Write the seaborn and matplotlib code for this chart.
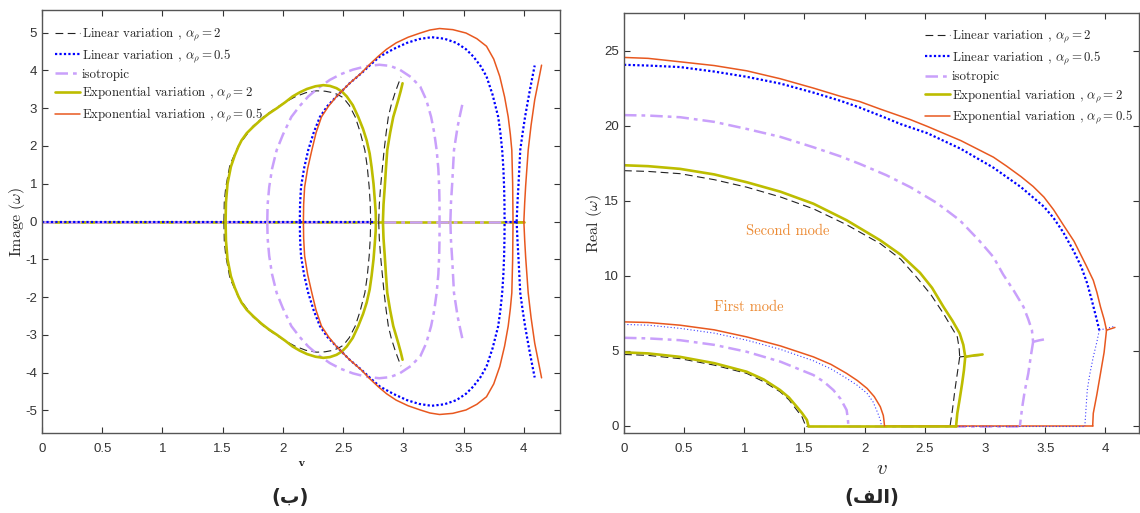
import matplotlib
matplotlib.use("Agg")
import matplotlib.pyplot as plt
import seaborn as sns
import numpy as np
from matplotlib.lines import Line2D

# ---------------- data ----------------
# left panel: Image(w) vs v  (upper halves; lower halves are the conjugates)
lin2_im_ell_v = [1.51, 1.513, 1.525, 1.56, 1.63, 1.75, 1.85, 1.95, 2.03, 2.10, 2.19, 2.28, 2.35, 2.40,
                 2.45, 2.50, 2.55, 2.60, 2.64, 2.68, 2.70, 2.716, 2.725, 2.728]
lin2_im_ell_y = [0, 0.50, 0.90, 1.50, 2.00, 2.52, 2.80, 3.02, 3.18, 3.30, 3.41, 3.46, 3.45, 3.42,
                 3.37, 3.28, 3.08, 2.77, 2.38, 1.89, 1.45, 0.91, 0.45, 0]
lin2_im_br_v = [2.795, 2.80, 2.81, 2.825, 2.84, 2.857, 2.875, 2.90, 2.93, 2.955, 2.98]
lin2_im_br_y = [0, 0.45, 0.90, 1.40, 1.89, 2.35, 2.77, 3.10, 3.40, 3.62, 3.83]
lin2_im_zero = [(0, 2.80)]

lin05_im_ell_v = [2.14, 2.142, 2.15, 2.175, 2.21, 2.255, 2.307, 2.37, 2.445, 2.55, 2.653, 2.73, 2.805,
                  2.92, 3.03, 3.13, 3.234, 3.34, 3.44, 3.52, 3.58, 3.64, 3.69, 3.74, 3.787, 3.805,
                  3.82, 3.83, 3.836, 3.839, 3.84]
lin05_im_ell_y = [0, 0.45, 0.91, 1.40, 1.89, 2.35, 2.77, 3.06, 3.31, 3.65, 3.93, 4.16, 4.37,
                  4.57, 4.73, 4.83, 4.88, 4.84, 4.73, 4.56, 4.37, 4.12, 3.84, 3.36, 2.77, 2.35,
                  1.89, 1.40, 0.91, 0.45, 0]
lin05_im_br_v = [3.94, 3.947, 3.955, 3.97, 3.99, 4.01, 4.03, 4.05, 4.07, 4.09]
lin05_im_br_y = [0, 0.50, 0.95, 1.89, 2.35, 2.77, 3.13, 3.48, 3.81, 4.13]
lin05_im_zero = [(0, 2.78), (3.84, 3.94)]

iso_im_ell_v = [1.87, 1.873, 1.886, 1.91, 1.948, 2.00, 2.07, 2.14, 2.21, 2.30, 2.39, 2.48, 2.58, 2.69,
                2.80, 2.89, 2.97, 3.06, 3.14, 3.19, 3.23, 3.256, 3.276, 3.29, 3.297, 3.30, 3.30]
iso_im_ell_y = [0, 0.45, 0.91, 1.40, 1.89, 2.30, 2.77, 3.06, 3.31, 3.55, 3.75, 3.90, 4.02, 4.11,
                4.15, 4.12, 4.02, 3.83, 3.57, 3.22, 2.77, 2.35, 1.89, 1.40, 0.91, 0.45, 0]
iso_im_br_v = [3.39, 3.395, 3.405, 3.42, 3.45, 3.47, 3.49]
iso_im_br_y = [0, 0.50, 1.00, 1.89, 2.51, 2.82, 3.11]
iso_im_zero = [(0, 3.93)]

exp2_im_ell_v = [1.524, 1.527, 1.54, 1.568, 1.60, 1.63, 1.657, 1.70, 1.754, 1.82, 1.88, 1.95, 2.02,
                 2.08, 2.14, 2.20, 2.27, 2.335, 2.39, 2.445, 2.49, 2.53, 2.58, 2.625, 2.665, 2.695,
                 2.72, 2.736, 2.752, 2.763, 2.770, 2.772]
exp2_im_ell_y = [0, 0.50, 1.00, 1.45, 1.75, 1.98, 2.15, 2.34, 2.51, 2.70, 2.85, 3.00, 3.16,
                 3.31, 3.42, 3.51, 3.58, 3.61, 3.59, 3.53, 3.44, 3.31, 3.08, 2.77, 2.45, 2.15,
                 1.80, 1.44, 1.00, 0.56, 0.25, 0]
exp2_im_br_v = [2.83, 2.835, 2.845, 2.855, 2.866, 2.89, 2.916, 2.94, 2.96, 2.978, 2.993]
exp2_im_br_y = [0, 0.45, 0.90, 1.40, 1.89, 2.35, 2.77, 3.03, 3.25, 3.46, 3.66]
exp2_im_zero = [(0, 4.0)]

exp05_im_ell_v = [2.17, 2.172, 2.18, 2.205, 2.24, 2.275, 2.32, 2.38, 2.445, 2.55, 2.65, 2.72, 2.79,
                  2.86, 2.94, 3.04, 3.14, 3.22, 3.30, 3.41, 3.52, 3.61, 3.69, 3.75, 3.80, 3.84,
                  3.87, 3.888, 3.90, 3.907, 3.91]
exp05_im_ell_y = [0, 0.45, 0.91, 1.40, 1.89, 2.35, 2.77, 3.06, 3.31, 3.65, 3.93, 4.16, 4.37,
                  4.56, 4.73, 4.88, 4.99, 5.07, 5.11, 5.08, 4.99, 4.84, 4.64, 4.30, 3.84, 3.30,
                  2.77, 2.30, 1.89, 1.00, 0]
exp05_im_br_v = [4.00, 4.007, 4.015, 4.036, 4.06, 4.09, 4.12, 4.147]
exp05_im_br_y = [0, 0.50, 0.95, 1.89, 2.55, 3.22, 3.70, 4.14]
exp05_im_zero = [(0, 2.17), (3.91, 4.0)]

# right panel: Real(w) vs v
lin2_re_m1_v = [0, 0.2, 0.466, 0.75, 1.02, 1.16, 1.297, 1.37, 1.436, 1.48, 1.51]
lin2_re_m1_y = [4.76, 4.70, 4.48, 4.05, 3.50, 2.95, 2.28, 1.75, 1.06, 0.60, 0]
lin2_re_m2_v = [0, 0.2, 0.466, 0.75, 1.02, 1.30, 1.574, 1.85, 2.13, 2.30, 2.43, 2.55, 2.655, 2.72,
                2.77, 2.785, 2.79]
lin2_re_m2_y = [17.0, 16.95, 16.8, 16.4, 15.9, 15.25, 14.46, 13.4, 12.14, 11.1, 9.92, 8.75, 7.48, 6.6,
                5.93, 5.2, 4.6]
lin2_re_dn_v = [2.79, 2.77, 2.75, 2.73, 2.71]
lin2_re_dn_y = [4.6, 3.5, 2.39, 1.1, 0]
lin2_re_br_v = [2.79, 2.88, 2.98]
lin2_re_br_y = [4.6, 4.66, 4.7]
lin2_re_zero = [(1.51, 2.71)]

lin05_re_m1_v = [0, 0.2, 0.466, 0.75, 1.02, 1.30, 1.574, 1.72, 1.85, 1.94, 2.02, 2.07, 2.11, 2.13, 2.14]
lin05_re_m1_y = [6.76, 6.71, 6.50, 6.18, 5.71, 5.10, 4.34, 3.80, 3.17, 2.70, 2.17, 1.60, 0.84, 0.40, 0]
lin05_re_m2_v = [0, 0.2, 0.466, 0.75, 1.02, 1.30, 1.574, 1.80, 1.96, 2.13, 2.30, 2.52, 2.80, 3.07,
                 3.30, 3.49, 3.57, 3.65, 3.74, 3.80, 3.85, 3.89, 3.93, 3.95]
lin05_re_m2_y = [24.05, 24.0, 23.9, 23.6, 23.25, 22.8, 22.2, 21.65, 21.2, 20.66, 20.1, 19.5, 18.45, 17.2,
                 15.9, 14.6, 13.85, 12.9, 11.6, 10.6, 9.48, 8.3, 7.04, 6.38]
lin05_re_dn_v = [3.95, 3.93, 3.90, 3.87, 3.85, 3.83]
lin05_re_dn_y = [6.38, 5.6, 4.6, 3.4, 2.39, 0]
lin05_re_br_v = [3.95, 4.02, 4.08]
lin05_re_br_y = [6.38, 6.52, 6.64]
lin05_re_zero = [(2.14, 3.83)]

iso_re_m1_v = [0, 0.2, 0.466, 0.75, 1.02, 1.30, 1.574, 1.66, 1.74, 1.80, 1.85, 1.86, 1.865]
iso_re_m1_y = [5.87, 5.83, 5.71, 5.40, 4.94, 4.28, 3.39, 2.95, 2.39, 1.80, 1.06, 0.50, 0]
iso_re_m2_v = [0, 0.2, 0.466, 0.75, 1.02, 1.30, 1.574, 1.80, 1.96, 2.18, 2.38, 2.60, 2.79, 2.95,
               3.07, 3.15, 3.24, 3.32, 3.36, 3.39, 3.40]
iso_re_m2_y = [20.7, 20.67, 20.56, 20.25, 19.78, 19.25, 18.56, 17.95, 17.45, 16.7, 15.9, 14.85, 13.7, 12.36,
               11.25, 10.1, 9.0, 7.93, 7.1, 6.38, 5.6]
iso_re_dn_v = [3.40, 3.38, 3.36, 3.33, 3.31, 3.29]
iso_re_dn_y = [5.6, 4.6, 3.5, 2.3, 1.28, 0]
iso_re_br_v = [3.40, 3.45, 3.49]
iso_re_br_y = [5.6, 5.7, 5.76]
iso_re_zero = [(1.865, 3.29)]

exp2_re_m1_v = [0, 0.2, 0.466, 0.75, 1.02, 1.16, 1.297, 1.37, 1.436, 1.48, 1.52, 1.533]
exp2_re_m1_y = [4.90, 4.83, 4.60, 4.18, 3.61, 3.10, 2.39, 1.90, 1.28, 0.85, 0.40, 0]
exp2_re_m2_v = [0, 0.2, 0.466, 0.75, 1.02, 1.30, 1.574, 1.85, 2.13, 2.30, 2.46, 2.56, 2.655, 2.73,
                2.79, 2.82, 2.836]
exp2_re_m2_y = [17.36, 17.3, 17.12, 16.75, 16.23, 15.6, 14.8, 13.7, 12.36, 11.4, 10.2, 9.2, 7.93, 7.0,
                6.16, 5.4, 4.6]
exp2_re_dn_v = [2.836, 2.825, 2.81, 2.79, 2.77, 2.76]
exp2_re_dn_y = [4.6, 3.7, 2.83, 1.8, 0.84, 0]
exp2_re_br_v = [2.836, 2.91, 2.98]
exp2_re_br_y = [4.6, 4.7, 4.76]
exp2_re_zero = [(1.533, 2.76)]

exp05_re_m1_v = [0, 0.2, 0.466, 0.75, 1.02, 1.30, 1.574, 1.72, 1.85, 1.94, 2.02, 2.08, 2.13, 2.155,
                 2.16, 2.165]
exp05_re_m1_y = [6.93, 6.89, 6.71, 6.40, 5.93, 5.33, 4.60, 4.10, 3.50, 3.02, 2.50, 1.95, 1.28, 0.70,
                 0.40, 0]
exp05_re_m2_v = [0, 0.2, 0.466, 0.75, 1.02, 1.30, 1.574, 1.80, 1.96, 2.13, 2.38, 2.52, 2.80, 3.07,
                 3.18, 3.30, 3.40, 3.49, 3.57, 3.65, 3.74, 3.84, 3.90, 3.93, 3.96, 3.99, 4.01]
exp05_re_m2_y = [24.54, 24.48, 24.25, 24.0, 23.65, 23.12, 22.5, 21.95, 21.6, 21.1, 20.4, 19.95, 19.0, 17.9,
                 17.3, 16.6, 15.95, 15.24, 14.4, 13.4, 12.3, 10.7, 9.7, 8.9, 7.93, 7.1, 6.38]
exp05_re_dn_v = [4.01, 3.99, 3.96, 3.93, 3.90, 3.895]
exp05_re_dn_y = [6.38, 4.9, 3.5, 2.1, 0.84, 0]
exp05_re_br_v = [4.01, 4.05, 4.08]
exp05_re_br_y = [6.38, 6.48, 6.56]
exp05_re_zero = [(2.165, 3.895)]

labels = [
    r"Linear variation , $\alpha_\rho = 2$",
    r"Linear variation , $\alpha_\rho = 0.5$",
    "isotropic",
    r"Exponential variation , $\alpha_\rho = 2$",
    r"Exponential variation , $\alpha_\rho = 0.5$",
]

# ---------------- styles ----------------
st_lin2 = dict(color="#222222", linewidth=0.8, linestyle=(0, (7, 4)))
st_lin05 = dict(color="#0000ff", linewidth=1.6, linestyle=(0, (1, 1)))
st_lin05_thin = dict(color="#3c3cff", linewidth=0.8, linestyle=(0, (1, 2)))
st_iso = dict(color="#c9a0fb", linewidth=1.8, linestyle=(0, (5, 2, 1.5, 2)))
st_exp2 = dict(color="#bdbd00", linewidth=1.9, linestyle="-")
st_exp05 = dict(color="#e8581f", linewidth=1.1, linestyle="-")

sns.set_style("ticks")
plt.rcParams.update({
    "font.family": ["Liberation Sans", "DejaVu Sans"],
    "mathtext.fontset": "cm",
    "axes.unicode_minus": False,
    "xtick.direction": "in",
    "ytick.direction": "in",
    "xtick.top": True,
    "ytick.right": True,
    "xtick.major.size": 4,
    "ytick.major.size": 4,
    "xtick.color": "#333333",
    "ytick.color": "#333333",
    "axes.edgecolor": "#555555",
    "axes.linewidth": 1.0,
})

fig = plt.figure(figsize=(11.4, 5.13), dpi=100)
axL = fig.add_axes([42 / 1140, 1 - 433 / 513, 518 / 1140, 423 / 513])
axR = fig.add_axes([624 / 1140, 1 - 433 / 513, 515 / 1140, 420 / 513])


def line(ax, v, y, st):
    sns.lineplot(x=v, y=y, ax=ax, sort=False, estimator=None, **st)


def zeros(ax, segs, st):
    for a, b in segs:
        line(ax, [a, b], [0, 0], st)


# ---------------- left: Image ----------------
zeros(axL, exp05_im_zero, st_exp05)
zeros(axL, lin2_im_zero, st_lin2)
zeros(axL, exp2_im_zero, st_exp2)
zeros(axL, iso_im_zero, st_iso)
zeros(axL, lin05_im_zero, st_lin05)

im_series = [
    (lin2_im_ell_v, lin2_im_ell_y, lin2_im_br_v, lin2_im_br_y, st_lin2),
    (iso_im_ell_v, iso_im_ell_y, iso_im_br_v, iso_im_br_y, st_iso),
    (exp2_im_ell_v, exp2_im_ell_y, exp2_im_br_v, exp2_im_br_y, st_exp2),
    (lin05_im_ell_v, lin05_im_ell_y, lin05_im_br_v, lin05_im_br_y, st_lin05),
    (exp05_im_ell_v, exp05_im_ell_y, exp05_im_br_v, exp05_im_br_y, st_exp05),
]
for ev, ey, bv, by, st in im_series:
    line(axL, ev, ey, st)
    line(axL, ev, list(-np.array(ey)), st)
    line(axL, bv, by, st)
    line(axL, bv, list(-np.array(by)), st)

axL.set_xlim(0, 4.3)
axL.set_ylim(-5.6, 5.6)
axL.set_xticks(np.arange(0, 4.01, 0.5))
axL.set_xticklabels(["0", "0.5", "1", "1.5", "2", "2.5", "3", "3.5", "4"])
axL.set_yticks(range(-5, 6))
axL.set_ylabel(r"Image $(\omega)$", family="cmr10", fontsize=11.5)
axL.yaxis.set_label_coords(-0.029, 0.5)
axL.set_xlabel("v", family="DejaVu Serif", fontweight="bold", fontsize=7)
axL.xaxis.set_label_coords(0.5, -0.061)

# ---------------- right: Real ----------------
re_series = [
    (lin2_re_m1_v, lin2_re_m1_y, lin2_re_m2_v, lin2_re_m2_y, lin2_re_dn_v, lin2_re_dn_y, lin2_re_br_v, lin2_re_br_y, st_lin2, st_lin2),
    (lin05_re_m1_v, lin05_re_m1_y, lin05_re_m2_v, lin05_re_m2_y, lin05_re_dn_v, lin05_re_dn_y, lin05_re_br_v, lin05_re_br_y, st_lin05, st_lin05_thin),
    (iso_re_m1_v, iso_re_m1_y, iso_re_m2_v, iso_re_m2_y, iso_re_dn_v, iso_re_dn_y, iso_re_br_v, iso_re_br_y, st_iso, st_iso),
    (exp2_re_m1_v, exp2_re_m1_y, exp2_re_m2_v, exp2_re_m2_y, exp2_re_dn_v, exp2_re_dn_y, exp2_re_br_v, exp2_re_br_y, st_exp2, st_exp2),
    (exp05_re_m1_v, exp05_re_m1_y, exp05_re_m2_v, exp05_re_m2_y, exp05_re_dn_v, exp05_re_dn_y, exp05_re_br_v, exp05_re_br_y, st_exp05, st_exp05),
]
zeros(axR, lin2_re_zero, st_lin2)
zeros(axR, iso_re_zero, st_iso)
zeros(axR, exp05_re_zero, st_exp05)
zeros(axR, lin05_re_zero, st_lin05_thin)
zeros(axR, exp2_re_zero, st_exp2)
for m1v, m1y, m2v, m2y, dv, dy, bv, by, st, st_low in re_series:
    line(axR, m1v, m1y, st_low)
    line(axR, m2v, m2y, st)
    line(axR, dv, dy, st_low)
    line(axR, bv, by, st_low)

axR.set_xlim(0, 4.28)
axR.set_ylim(-0.47, 27.5)
axR.set_xticks(np.arange(0, 4.01, 0.5))
axR.set_xticklabels(["0", "0.5", "1", "1.5", "2", "2.5", "3", "3.5", "4"])
axR.set_yticks(range(0, 26, 5))
axR.set_ylabel(r"Real $(\omega)$", family="cmr10", fontsize=11.5)
axR.yaxis.set_label_coords(-0.038, 0.5)
axR.set_xlabel(r"$v$", fontsize=15)
axR.xaxis.set_label_coords(0.5, -0.062)
axR.text(1.36, 13.0, "Second mode", family="cmr10", fontsize=10.5, color="#ec8a33",
         ha="center", va="center")
axR.text(1.035, 7.9, "First mode", family="cmr10", fontsize=10.5, color="#ec8a33",
         ha="center", va="center")

for ax in (axL, axR):
    ax.tick_params(labelsize=9.5, width=0.8)
    ax.tick_params(axis="x", pad=7)

# ---------------- legends ----------------
styles = [st_lin2, st_lin05, st_iso, st_exp2, st_exp05]
handles = [Line2D([], [], **s) for s in styles]
leg_kw = dict(frameon=False, prop={"family": "cmr10", "size": 9.3}, handlelength=1.95,
              handletextpad=0.15, labelspacing=0.32, borderpad=0, borderaxespad=0,
              loc="upper left")
axL.legend(handles, labels, bbox_to_anchor=(0.025, 0.960), **leg_kw)
axR.legend(handles, labels, bbox_to_anchor=(0.584, 0.962), **leg_kw)

# panel captions
fig.text(290 / 1140, 1 - 497 / 513, "(ب)", family="DejaVu Sans", fontweight="bold",
         fontsize=14, ha="center", va="center")
fig.text(872 / 1140, 1 - 497 / 513, "(\ufed2\ufedf\ufe8d)", family="DejaVu Sans",
         fontweight="bold", fontsize=14, ha="center", va="center")

fig.savefig("out.png", dpi=100)
